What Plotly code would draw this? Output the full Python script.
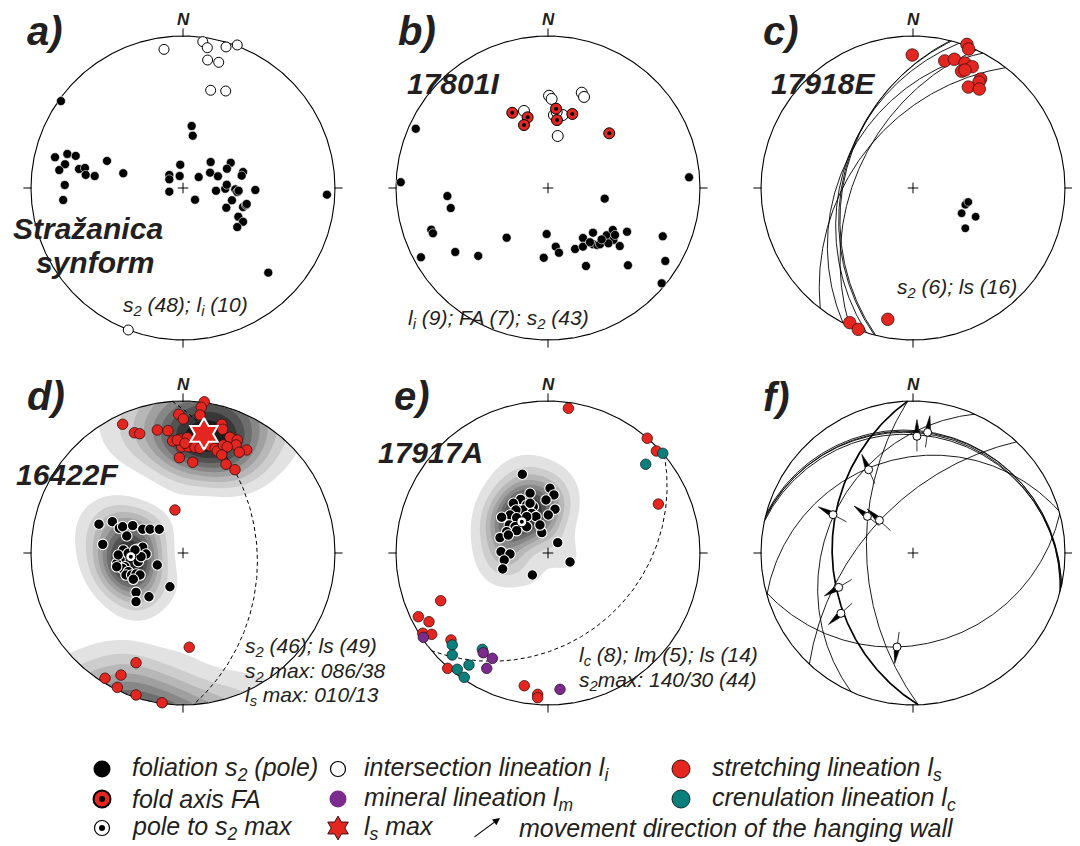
import numpy as np
import plotly.graph_objects as go

W, H = 1080, 846          # reference picture size
PAGE = 8                  # default page margin of the browser body
FW, FH = W - PAGE, H - PAGE

# ------------------------------------------------------------------
# DATA  (points: stereographic lower-hemisphere positions, % of primitive radius,
#        x = east, y = north; planes: (dip direction, dip); lines: (trend, plunge))
# ------------------------------------------------------------------
A_S2 = [(-80.3, 57.2), (5.7, 40.8), (6.4, 34.4), (-84.2, 20.2), (-76.1, 22.4), (-70.6, 21.1),
        (-77.6, 15.6), (-81.4, 11.8), (-68.4, 12.5), (-64.5, 13.2), (-64, 8.6), (-58.1, 7.9),
        (-50, 17.8), (-39.3, 9.7), (-77.8, 2), (-78.8, -7.9), (-1.8, 15.3), (-9, 8.6), (-9, 5.7),
        (-2.2, 7.9), (-9, -2.4), (10.3, 7.2), (7.9, -7.7), (18.2, 17.1), (17.8, 10.1), (23, 7.7),
        (31.4, 16.6), (28.9, 12.7), (39.5, 10.5), (38.6, 8.1), (21.7, -1.8), (27.8, -0.5),
        (28.8, 2.2), (34.4, -0.9), (35.7, -2.6), (47.6, -1.3), (32.2, -8.1), (28.5, -13),
        (39.5, -12.5), (41.4, -11.2), (36.4, -18.9), (39.5, -22.2), (35.7, -25.7), (94.7, -4.4),
        (56.1, -55.7), (36.6, -1.8), (41.9, -10.5)]
A_LI = [(-12.5, 91.2), (13, 96.3), (16, 92.3), (28.3, 92.8), (35.7, 94.1), (16.2, 84.2),
        (23.5, 82.7), (18.2, 64.3), (28.1, 63.8), (-36, -93.4)]

B_S2 = [(-87, 39), (-96.9, 3.8), (92.8, 7), (-66.2, -5.3), (-64, -13.2), (-76.8, -27.4),
        (-75.7, -29.8), (-83.6, -45.6), (-61, -42.1), (-45.9, -44.7), (-27.2, -32.7),
        (-0.9, -30.3), (5.1, -38.6), (7.2, -42.6), (-2.8, -45.9), (37.3, -7), (17.8, -40.1),
        (23, -32.9), (23, -38.6), (29.6, -29.4), (29.6, -37), (32.4, -37.5), (34.2, -37),
        (38.6, -31.1), (42.6, -27.6), (43, -34.2), (39.7, -36.4), (47.2, -38.2), (52, -28.8),
        (25, -51.3), (52.6, -50.9), (75.5, -31.8), (77.2, -48), (74.8, -62.7), (44.1, -30.9),
        (27.6, -35.7), (35.3, -33.8)]
B_LI = [(0.7, 60.7), (2.4, 58.6), (22.2, 62.7), (23.7, 59.9), (-15.8, 50.7), (3.9, 48),
        (9.7, 48), (6.4, 34.2), (5.7, 50)]
B_FA = [(-23.5, 49.5), (-13.4, 46.5), (-15.8, 41.4), (5.3, 52.2), (5.9, 44.7), (16, 48.7),
        (40.3, 36)]

C_S2 = [(35.7, -9.4), (34.4, -11), (32, -16.6), (41.2, -18.9), (34.4, -26.5), (36.4, -9.2)]
C_LS = [(-0.5, 87.5), (35.5, 94.5), (36.6, 91.4), (20.9, 83.6), (27.2, 84.7), (34.2, 82.2),
        (39, 79.8), (32, 76.8), (34.2, 77.6), (44.5, 71.7), (43.4, 69.7), (36.4, 66.4),
        (43.6, 65.1), (-41.6, -88.6), (-36, -93), (-16.6, -86.4)]

D_S2 = [(-55.3, 18.9), (-46.5, 20.6), (-41.9, 16.3), (-39.7, 17.3), (-37, 11.2), (-33.1, 18),
        (-26.5, 15.6), (-21.7, 15.6), (-15.6, 15.6), (-52.8, 5.7), (-39.3, 2), (-30.5, 2.4),
        (-26.5, 3.8), (-24.3, -0.7), (-29.4, -5.7), (-41.4, -4.1), (-43.6, -6.8), (-38.2, -9),
        (-39.9, -10.1), (-36, -12.3), (-37.5, -14.5), (-33.8, -14.5), (-30.9, -13.8),
        (-28.3, -14.5), (-32.7, -17.3), (-16.9, -7.9), (-8.6, -22.2), (-30.9, -25.9),
        (-22.4, -28.8), (-30.9, -32), (-42.6, -1.3), (-27.6, -2.4), (-36, -0.2), (-31.6, 2),
        (-43.6, -9)]
D_LS = [(14, 99.5), (12, 95.9), (11.2, 90.8), (-2.8, 91.2), (0.2, 88.2), (-39.7, 84.7),
        (-32, 79.1), (-28.5, 78.5), (-16.9, 80.9), (-9.9, 80.5), (25.5, 84.7), (26.1, 81.4),
        (-6.8, 73.7), (-2, 75), (2.8, 75.9), (-0.9, 69.9), (3.5, 69.9), (7.9, 69.5), (13.4, 71.1),
        (17.8, 70.4), (21.1, 68.9), (22.6, 67.1), (26.5, 71.1), (30.9, 76.1), (35.7, 74.3),
        (34.9, 71.1), (29.1, 69.9), (41.9, 67.8), (37, 66.3), (25.5, 64.5), (-2.4, 62.7),
        (6.4, 59.7), (28.3, 58.4), (34.2, 54.8), (-3.8, 74.3), (1.3, 72.2), (11.2, 68.9),
        (-5.3, 28.3), (4.1, -62), (-30.9, -72.2), (-40.8, -80.3), (-51.3, -82.4), (-43.2, -88.4),
        (-30.9, -93.4), (-13.8, -98.5)]
D_S2_MAX = (86, 38)    # dip direction / dip
D_LS_MAX = (10, 13)    # trend / plunge

E_S2 = [(-16.9, 51.8), (1.3, 42.6), (3.9, 38.2), (-1.3, 34.9), (-11.8, 39.3), (-18, 35.3),
        (-22.8, 32.7), (-14, 31.6), (-9.7, 30.5), (4.6, 28.8), (0.2, 25), (-16.3, 28.3),
        (-21.1, 28.3), (-25, 25), (-30.5, 23.5), (-10.7, 26.1), (-7.9, 23.9), (-14, 23.9),
        (-20.6, 23.2), (-25.5, 18.4), (-21.7, 17.3), (-14, 17.3), (-27.2, 14), (-20.6, 14.7),
        (-31.6, 10.1), (-26.1, 11.8), (-4.1, 13.4), (6.4, 6.8), (-30.9, 0.9), (-25, -0.7),
        (-28.8, -4.6), (-29.8, -10.5), (-10.3, -14.5), (14.5, -5.9), (-11.8, 32.7), (-5.3, 18.4)]
E_LS = [(13.4, 95.2), (65.3, 75.5), (71.3, 67.1), (72.6, 32.2), (-70.6, -31.4), (-85.3, -41.9),
        (-78.3, -45.2), (-82.4, -52.8), (-76.5, -53.5), (-63.8, -57.2), (-66, -75.9),
        (-15.6, -87.3), (-6.8, -93), (-6.8, -95.2)]
E_LC = [(75.5, 65.6), (64.3, 58.4), (-63, -60.5), (-63, -67.1), (-43.2, -63.4), (-59.7, -76.5),
        (-52, -73.7), (-55.1, -81.8)]
E_LM = [(-82, -55.5), (-42.6, -65.6), (-36.6, -69.3), (-40.3, -75.9), (7.9, -89.7)]
E_S2_MAX = (140, 30)

F_PLANES = [(268, 34), (268, 56), (13, 13), (14, 13.6), (15, 12.6), (12, 14.4), (313, 56),
            (294, 30), (344, 26), (165, 28)]
F_THICK = [0]
F_LIN = [(2.6, 76.8), (9.6, 79.4), (-29.2, 54.8), (-52.6, 25.2), (-30, 24.1), (-22.1, 21.5),
         (-48.9, -22.6), (-47.4, -39.7), (-10.5, -61.8)]
F_MOVE = [0, 8, 336, 298, 308, 313, 239, 228, 188]   # movement azimuth of hanging wall

# ------------------------------------------------------------------
# geometry helpers (stereographic / Wulff net, lower hemisphere)
# ------------------------------------------------------------------
def xy(pairs):
    a = np.asarray(pairs, float) / 100.0
    return a[:, 0], a[:, 1]


def line_vec(trend, plunge):
    t, p = np.radians(trend), np.radians(plunge)
    return np.array([np.cos(p) * np.sin(t), np.cos(p) * np.cos(t), -np.sin(p)])


def project(v):
    v = np.atleast_2d(v)
    d = 1.0 - v[:, 2]
    return v[:, 0] / d, v[:, 1] / d


def unproject(x, y):
    x = np.asarray(x, float)
    y = np.asarray(y, float)
    r = np.hypot(x, y)
    th = 2 * np.arctan(r)
    s = np.where(r > 1e-9, np.sin(th) / np.where(r > 1e-9, r, 1.0), 2.0)
    return np.stack([x * s, y * s, -np.cos(th)], axis=-1)


def great_circle(dipdir, dip, n=241):
    dd, d = np.radians(dipdir), np.radians(dip)
    s = np.array([np.sin(dd - np.pi / 2), np.cos(dd - np.pi / 2), 0.0])
    dv = np.array([np.cos(d) * np.sin(dd), np.cos(d) * np.cos(dd), -np.sin(d)])
    t = np.linspace(0, np.pi, n)
    v = np.outer(np.cos(t), s) + np.outer(np.sin(t), dv)
    return project(v)


def plane_from_pole(x, y):
    v = unproject([x], [y])[0]
    v = v / np.linalg.norm(v)
    trend = np.degrees(np.arctan2(v[0], v[1])) % 360
    plunge = np.degrees(np.arcsin(-v[2]))
    return (trend + 180) % 360, 90 - plunge


GRID = np.linspace(-1, 1, 221)


def density(pairs, kappa):
    x, y = xy(pairs)
    data = unproject(x, y)
    data /= np.linalg.norm(data, axis=1, keepdims=True)
    gx, gy = np.meshgrid(GRID, GRID)
    g = unproject(gx.ravel(), gy.ravel())
    g /= np.linalg.norm(g, axis=1, keepdims=True)
    dens = np.exp(kappa * (np.abs(g @ data.T) - 1)).sum(axis=1).reshape(gx.shape)
    dens[np.hypot(gx, gy) > 1] = 0.0
    dens /= dens.max()
    return dens


# ------------------------------------------------------------------
# layout of the six nets (positions in reference pixels)
# ------------------------------------------------------------------
R_PX = 152
CENTERS = {'a': (183, 188), 'b': (548, 188), 'c': (913, 188),
           'd': (183, 553), 'e': (548, 553), 'f': (913, 553)}
XR = (-1.15, 1.09)
YR = (-1.18, 1.18)
PANELS = ['a', 'b', 'c', 'd', 'e', 'f']


def px(x):
    return min(max((x - PAGE) / FW, 0.0), 1.0)


def py(y):
    return min(max(1 - (y - PAGE) / FH, 0.0), 1.0)


fig = go.Figure()
layout_axes = {}
AX = {}
for i, p in enumerate(PANELS):
    cx, cy = CENTERS[p]
    sx = '' if i == 0 else str(i + 1)
    layout_axes['xaxis' + sx] = dict(domain=[px(cx + XR[0] * R_PX), px(cx + XR[1] * R_PX)],
                                     range=list(XR), visible=False, fixedrange=True,
                                     anchor='y' + sx)
    layout_axes['yaxis' + sx] = dict(domain=[py(cy - YR[0] * R_PX), py(cy - YR[1] * R_PX)],
                                     range=list(YR), visible=False, fixedrange=True,
                                     anchor='x' + sx)
    AX[p] = ('x' + sx, 'y' + sx)
# overlay axis for the legend keys (reference pixel space)
layout_axes['xaxis7'] = dict(domain=[0, 1], range=[PAGE, W], visible=False, fixedrange=True, anchor='y7')
layout_axes['yaxis7'] = dict(domain=[0, 1], range=[H, PAGE], visible=False, fixedrange=True, anchor='x7')

INK = '#231f20'
RED = '#e3261f'
TEAL = '#0a7f7c'
PURPLE = '#7a2b8b'
SHADES = ['#ffffff', '#e2e2e2', '#cdcdcd', '#b7b7b7', '#a0a0a0', '#878787', '#6d6d6d',
          '#535353', '#383838', '#1c1c1c']


def add(p, **kw):
    xa, ya = AX[p]
    fig.add_trace(go.Scatter(xaxis=xa, yaxis=ya, hoverinfo='skip', showlegend=False, **kw))


def shading(p, sets, start, step):
    """sets: list of (points, kappa); each set is normalised to its own maximum."""
    xa, ya = AX[p]
    z = np.maximum.reduce([density(pairs, k) for pairs, k in sets])
    nc = len(SHADES) - 1
    fig.add_trace(go.Contour(
        x=GRID, y=GRID, z=np.round(z, 4), xaxis=xa, yaxis=ya,
        contours=dict(start=start, end=start + (nc - 1) * step, size=step,
                      coloring='fill', showlines=False),
        colorscale=[[j / nc, SHADES[j]] for j in range(nc + 1)],
        showscale=False, line=dict(width=0), hoverinfo='skip'))


def frame(p):
    t = np.linspace(0, 2 * np.pi, 721)
    add(p, x=np.cos(t), y=np.sin(t), mode='lines', line=dict(color='black', width=1.1))
    tx, ty = [], []
    for ux, uy in [(0, 1), (1, 0), (0, -1), (-1, 0)]:
        tx += [ux * 0.995, ux * 1.05, None]
        ty += [uy * 0.995, uy * 1.05, None]
    c = 0.035
    tx += [-c, c, None, 0, 0, None]
    ty += [0, 0, None, -c, c, None]
    add(p, x=tx, y=ty, mode='lines', line=dict(color='black', width=1))


def points(p, pairs, size, color, lcolor, lwidth, symbol='circle'):
    x, y = xy(pairs)
    add(p, x=x, y=y, mode='markers',
        marker=dict(size=size, color=color, symbol=symbol, line=dict(color=lcolor, width=lwidth)))


def plane_trace(p, dd, dip, width=0.9, dash='solid'):
    gx, gy = great_circle(dd, dip)
    add(p, x=gx, y=gy, mode='lines', line=dict(color='black', width=width, dash=dash))


# ---------------- a ----------------
frame('a')
points('a', A_LI, 10, 'white', 'black', 1)
points('a', A_S2, 9, 'black', 'white', 0.6)

# ---------------- b ----------------
frame('b')
points('b', B_LI, 11, 'white', 'black', 1)
points('b', B_FA, 11, RED, 'black', 1)
points('b', B_FA, 4, 'black', 'black', 0)
points('b', B_S2, 9, 'black', 'white', 0.6)

# ---------------- c ----------------
for (px_, py_) in C_S2:
    dd, dip = plane_from_pole(px_ / 100, py_ / 100)
    plane_trace('c', dd, dip, width=0.9)
frame('c')
points('c', C_LS, 12.5, RED, '#3a1010', 0.8)
points('c', C_S2, 8.5, 'black', 'white', 0.6)

# ---------------- d ----------------
shading('d', [(D_LS, 20), (D_S2, 24)], 0.1, 0.1)
plane_trace('d', *D_S2_MAX, width=1, dash='4px,3px')
frame('d')
points('d', D_S2, 10.5, 'black', 'white', 1.1)
pxm, pym = project(line_vec(D_S2_MAX[0] + 180, 90 - D_S2_MAX[1]))
add('d', x=pxm, y=pym, mode='markers', marker=dict(size=10, color='white', line=dict(color='black', width=1)))
add('d', x=pxm, y=pym, mode='markers', marker=dict(size=4, color='black'))
points('d', D_LS, 10.5, RED, '#3a1010', 0.8)
lxm, lym = project(line_vec(*D_LS_MAX))
add('d', x=lxm, y=lym, mode='markers',
    marker=dict(size=24, color=RED, symbol='hexagram', line=dict(color='white', width=2)))

# ---------------- e ----------------
shading('e', [(E_S2, 25)], 0.08, 0.1)
plane_trace('e', *E_S2_MAX, width=1, dash='4px,3px')
frame('e')
points('e', E_S2, 10.5, 'black', 'white', 1.1)
pxm, pym = project(line_vec(E_S2_MAX[0] + 180, 90 - E_S2_MAX[1]))
add('e', x=pxm, y=pym, mode='markers', marker=dict(size=10, color='white', line=dict(color='black', width=1)))
add('e', x=pxm, y=pym, mode='markers', marker=dict(size=4, color='black'))
points('e', E_LS, 10.5, RED, '#3a1010', 0.8)
points('e', E_LC, 10.5, TEAL, '#102a2a', 0.8)
points('e', E_LM, 10.5, PURPLE, '#2a102a', 0.8)

# ---------------- f ----------------
for i, (dd, dip) in enumerate(F_PLANES):
    plane_trace('f', dd, dip, width=1.7 if i in F_THICK else 0.9)
frame('f')
lx, ly = xy(F_LIN)
az = np.radians(F_MOVE)
ux, uy = np.sin(az), np.cos(az)
tail_x, tail_y, head_x, head_y = [], [], [], []
for x0, y0, a, b in zip(lx, ly, ux, uy):
    tail_x += [x0, x0 - 0.10 * a, None]
    tail_y += [y0, y0 - 0.10 * b, None]
    bx, by = x0 + 0.025 * a, y0 + 0.025 * b
    tipx, tipy = x0 + 0.11 * a, y0 + 0.11 * b
    w = 0.016
    head_x += [bx - w * b, tipx, bx + w * b, bx - w * b, None]
    head_y += [by + w * a, tipy, by - w * a, by + w * a, None]
add('f', x=tail_x, y=tail_y, mode='lines', line=dict(color='black', width=0.8))
add('f', x=head_x, y=head_y, mode='lines', fill='toself', fillcolor='black',
    line=dict(color='black', width=0.6))
add('f', x=lx, y=ly, mode='markers', marker=dict(size=8, color='white', line=dict(color='black', width=1)))

# ------------------------------------------------------------------
# legend (keys drawn in reference pixel space)
# ------------------------------------------------------------------
def key(x, y, **m):
    fig.add_trace(go.Scatter(x=[x], y=[y], xaxis='x7', yaxis='y7', mode='markers',
                             marker=m, hoverinfo='skip', showlegend=False))

ROWS = [769, 799, 828]
key(102, ROWS[0], size=17, color='black')
key(102, ROWS[1], size=17, color=RED, line=dict(color='black', width=2))
key(102, ROWS[1], size=6, color='black')
key(102, ROWS[2], size=15, color='white', line=dict(color='black', width=1.2))
key(102, ROWS[2], size=6, color='black')
key(338, ROWS[0], size=15, color='white', line=dict(color='black', width=1.2))
key(338, ROWS[1], size=17, color=PURPLE)
key(338, ROWS[2], size=18, color=RED, symbol='hexagram', line=dict(color='#3a1010', width=1))
key(681, ROWS[0], size=18, color=RED, line=dict(color='#3a1010', width=1))
key(681, ROWS[1], size=18, color=TEAL, line=dict(color='#102a2a', width=1))

# ------------------------------------------------------------------
# texts
# ------------------------------------------------------------------
ann = []


def txt(x, y, s, size, bold=False, italic=True, anchor='center'):
    ann.append(dict(x=px(x), y=py(y), xref='paper', yref='paper', text=s, showarrow=False,
                    xanchor=anchor, yanchor='middle',
                    font=dict(family='Liberation Sans, Arial, sans-serif', size=size, color=INK,
                              weight='bold' if bold else 'normal',
                              style='italic' if italic else 'normal')))


for p, (lab, lx_, ly_) in zip(PANELS, [('a)', 45, 31), ('b)', 417, 31), ('c)', 781, 31),
                                      ('d)', 46, 396), ('e)', 412, 396), ('f)', 776, 397)]):
    txt(lx_, ly_, lab, 40, bold=True)
    cx, cy = CENTERS[p]
    txt(cx, cy - 168, 'N', 17, bold=True)

txt(88, 229, 'Stražanica', 30, bold=True)
txt(95, 263, 'synform', 30, bold=True)
txt(453, 83, '17801I', 30, bold=True)
txt(823, 83, '17918E', 30, bold=True)
txt(67, 474, '16422F', 30, bold=True)
txt(430, 452, '17917A', 30, bold=True)

CS = 21
txt(185, 306, 's<sub>2</sub> (48); l<sub>i</sub> (10)', CS)
txt(498, 319, 'l<sub>i</sub> (9); FA (7); s<sub>2</sub> (43)', CS)
txt(957, 288, 's<sub>2</sub> (6); ls (16)', CS)
txt(243, 647, 's<sub>2</sub> (46); ls (49)', CS, anchor='left')
txt(243, 672, 's<sub>2</sub> max: 086/38', CS, anchor='left')
txt(243, 696, 'l<sub>s</sub> max: 010/13', CS, anchor='left')
txt(577, 656, 'l<sub>c</sub> (8); lm (5); ls (14)', CS, anchor='left')
txt(577, 681, 's<sub>2</sub>max: 140/30 (44)', CS, anchor='left')

LS_ = 25
txt(130, ROWS[0], 'foliation s<sub>2</sub> (pole)', LS_, anchor='left')
txt(130, ROWS[1], 'fold axis FA', LS_, anchor='left')
txt(130, ROWS[2], 'pole to s<sub>2</sub> max', LS_, anchor='left')
txt(362, ROWS[0], 'intersection lineation l<sub>i</sub>', LS_, anchor='left')
txt(362, ROWS[1], 'mineral lineation l<sub>m</sub>', LS_, anchor='left')
txt(362, ROWS[2], 'l<sub>s</sub> max', LS_, anchor='left')
txt(710, ROWS[0], 'stretching lineation l<sub>s</sub>', LS_, anchor='left')
txt(710, ROWS[1], 'crenulation lineation l<sub>c</sub>', LS_, anchor='left')
txt(517, ROWS[2], 'movement direction of the hanging wall', LS_, anchor='left')

ann.append(dict(x=px(500), y=py(818), xref='paper', yref='paper', ax=-27, ay=20,
                showarrow=True, arrowhead=2, arrowsize=1.2, arrowwidth=1.2, arrowcolor='black',
                text=''))

fig.update_layout(width=FW, height=FH, margin=dict(l=0, r=0, t=0, b=0),
                  paper_bgcolor='white', plot_bgcolor='rgba(0,0,0,0)', showlegend=False,
                  annotations=ann, **layout_axes)

fig.write_html('out.html')
